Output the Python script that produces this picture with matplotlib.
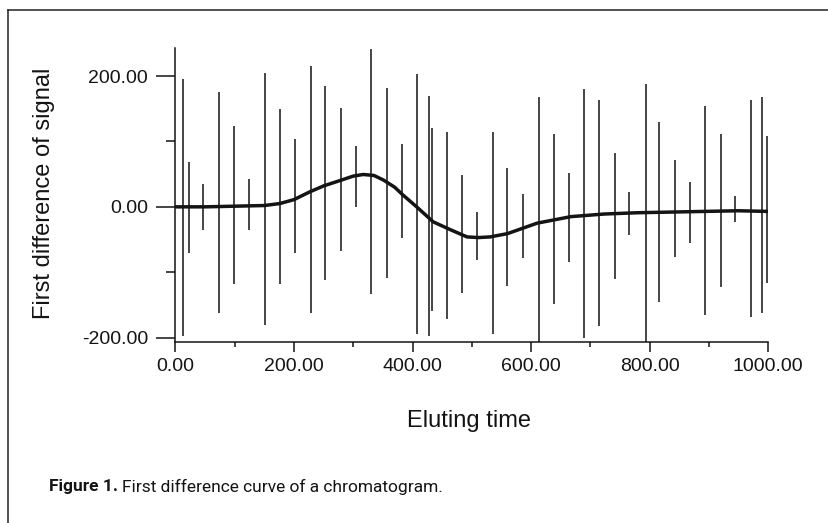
import numpy as np
import matplotlib
matplotlib.use("Agg")
import matplotlib.pyplot as plt
from matplotlib.ticker import MultipleLocator, FormatStrFormatter
from matplotlib.lines import Line2D

# slow baseline of the first difference curve
base_t = [0, 50, 100, 150, 176, 200, 227, 250, 277, 300, 317, 335, 351, 370,
          384, 407, 435, 464, 492, 511, 531, 560, 610, 667, 723, 780, 836,
          892, 949, 1000]
base_v = [0, 0, 1, 2, 5, 11, 23, 32, 40, 47, 49.5, 48, 41, 30,
          18, 0, -23, -35, -46, -47, -46, -41, -25, -15, -11, -9, -8,
          -7, -6, -7]

# sharp peaks: position, top and bottom of each up/down excursion
spike_t = [12.5, 23.6, 47.2, 74.2, 99.5, 124.3, 151.3, 176.6, 201.9, 228.3,
           253.0, 278.9, 304.2, 330.0, 356.5, 381.8, 407.1, 427.8, 432.4,
           457.7, 483.0, 508.3, 535.2, 559.9, 585.8, 613.3, 638.1, 663.4,
           689.7, 715.0, 741.0, 765.1, 793.3, 816.2, 842.7, 867.5, 893.8,
           919.7, 943.8, 970.8, 989.9, 997.3]
spike_top = [196, 69, 35, 176, 123, 42, 204, 149, 104, 216,
             185, 151, 93, 241, 182, 96, 203, 169, 121,
             114, 48, -8, 115, 59, 19, 168, 111, 52,
             181, 164, 82, 22, 188, 130, 72, 38, 154,
             111, 17, 163, 168, 108]
spike_bottom = [-198, -70, -35, -163, -118, -35, -181, -118, -71, -163,
                -112, -68, 0, -134, -109, -47, -194, -198, -160,
                -172, -132, -82, -194, -121, -79, -210, -149, -85,
                -200, -183, -110, -43, -210, -145, -76, -56, -166,
                -122, -23, -169, -162, -117]

W, H = 829, 523
fig = plt.figure(figsize=(W / 100, H / 100), dpi=100)
ax = fig.add_axes([175.3 / W, 1 - 341.5 / H, 593 / W, 293.5 / H])

ink = "#141414"
ax.vlines(spike_t, spike_bottom, spike_top, color=ink, lw=1.1)
ax.plot(base_t, base_v, color=ink, lw=2.5)

ax.set_xlim(0, 1000)
ax.set_ylim(-206, 243)
for s in ["top", "right"]:
    ax.spines[s].set_visible(False)
for s in ["left", "bottom"]:
    ax.spines[s].set_linewidth(1.1)
    ax.spines[s].set_color(ink)

ax.xaxis.set_major_locator(MultipleLocator(200))
ax.xaxis.set_minor_locator(MultipleLocator(100))
ax.yaxis.set_major_locator(MultipleLocator(200))
ax.yaxis.set_minor_locator(MultipleLocator(100))
ax.xaxis.set_major_formatter(FormatStrFormatter("%.2f"))
ax.yaxis.set_major_formatter(FormatStrFormatter("%.2f"))

ax.tick_params(axis="x", which="major", direction="out", length=7.2, width=1.1,
               pad=5, colors=ink)
ax.tick_params(axis="x", which="minor", direction="out", length=3.6, width=1.1,
               colors=ink)
ax.tick_params(axis="y", which="major", direction="out", length=13.5, width=1.1,
               pad=6, colors=ink)
ax.tick_params(axis="y", which="minor", direction="out", length=6.5, width=1.1,
               colors=ink)
for lab in ax.get_xticklabels() + ax.get_yticklabels():
    lab.set_fontfamily("Liberation Sans")
    lab.set_fontsize(14)

fig.text(469 / W, 1 - 421 / H, "Eluting time", ha="center", va="center",
         family="Liberation Sans", size=17, color=ink)
fig.text(44 / W, 1 - 193 / H, "First difference of signal", ha="center",
         va="center", rotation=90, family="Liberation Sans", size=17, color=ink)

# page frame of the scanned figure
fig.add_artist(Line2D([8 / W, 8 / W], [0, 1 - 10 / H], transform=fig.transFigure,
                      color="#222222", lw=1.1))
fig.add_artist(Line2D([8 / W, 1], [1 - 10 / H, 1 - 10 / H],
                      transform=fig.transFigure, color="#222222", lw=1.1))

# caption
cap_y = 1 - 487 / H
t1 = fig.text(49 / W, cap_y, "Figure 1.", ha="left", va="center",
              family="Roboto", weight="bold", size=12.5, color=ink)
fig.canvas.draw()
bb = t1.get_window_extent()
fig.text((bb.x1 + 4) / W, cap_y, "First difference curve of a chromatogram.",
         ha="left", va="center", family="Roboto", size=12.5, color=ink)

fig.savefig("out.png", dpi=100, facecolor="white")
